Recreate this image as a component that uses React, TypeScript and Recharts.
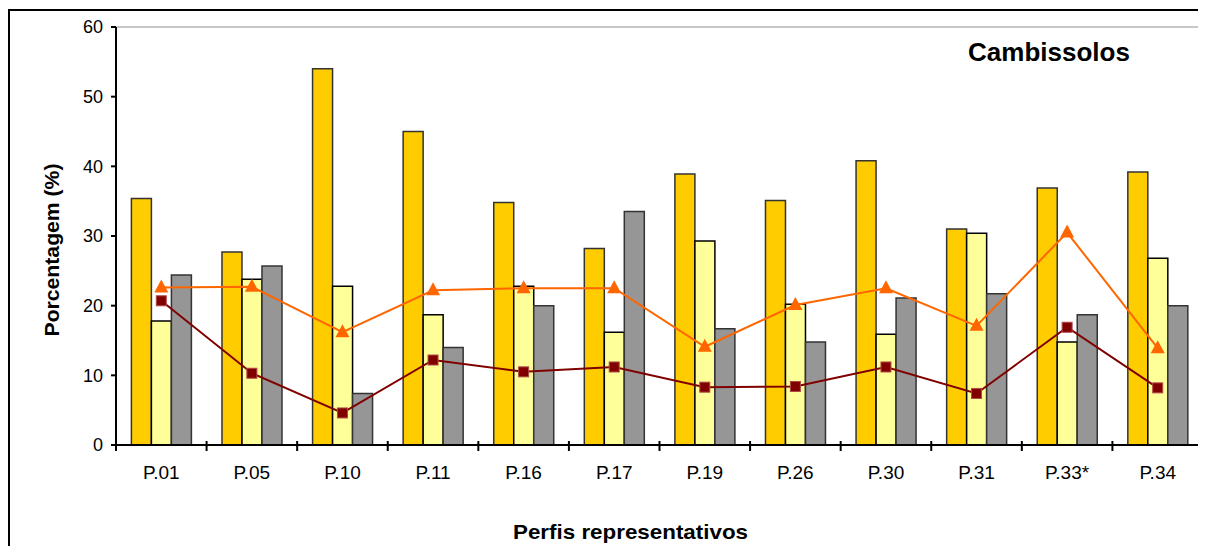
import React from 'react';
import { ComposedChart, Bar, Line, XAxis, YAxis, ReferenceLine } from 'recharts';

const categories = ['P.01', 'P.05', 'P.10', 'P.11', 'P.16', 'P.17', 'P.19', 'P.26', 'P.30', 'P.31', 'P.33*', 'P.34'];
const goldValues = [35.4, 27.7, 54.0, 45.0, 34.8, 28.2, 38.9, 35.1, 40.8, 31.0, 36.9, 39.2];
const paleValues = [17.8, 23.8, 22.8, 18.7, 22.8, 16.2, 29.3, 20.2, 15.9, 30.4, 14.8, 26.8];
const greyValues = [24.4, 25.7, 7.4, 14.0, 20.0, 33.5, 16.7, 14.8, 21.1, 21.7, 18.7, 20.0];
const triangleValues = [22.6, 22.7, 16.2, 22.2, 22.5, 22.5, 14.1, 20.1, 22.5, 17.1, 30.5, 13.9];
const squareValues = [20.7, 10.3, 4.6, 12.2, 10.5, 11.2, 8.3, 8.4, 11.2, 7.4, 16.9, 8.2];
const yTicks = [0, 10, 20, 30, 40, 50, 60];

const data = categories.map((name, i) => ({
  name,
  gold: goldValues[i],
  pale: paleValues[i],
  grey: greyValues[i],
  tri: triangleValues[i],
  sq: squareValues[i],
}));

const FONT = '"Liberation Sans", Arial, sans-serif';
// half a category band: plot is 1087px wide, 12 categories
const HALF_BAND = 1087 / 12 / 2;

// label at the category centre, tick mark on the boundary (Excel style)
const XTick = (props: any) => {
  const { x, y, payload } = props;
  const last = payload.value === categories[categories.length - 1];
  return (
    <g>
      <path d={`M${x - HALF_BAND},${y - 4}V${y + 6}`} stroke="#000" strokeWidth={2} fill="none" />
      {last && <path d={`M${x + HALF_BAND},${y - 4}V${y + 6}`} stroke="#000" strokeWidth={2} fill="none" />}
      <text x={x} y={y + 34} textAnchor="middle" fontFamily={FONT} fontSize={19} fill="#000">
        {payload.value}
      </text>
    </g>
  );
};

const Triangle = (props: any) => {
  const { cx, cy, index } = props;
  if (cx == null || cy == null) return <g key={`t${index}`} />;
  return <path key={`t${index}`} d={`M${cx},${cy - 8} L${cx + 7},${cy + 5} L${cx - 7},${cy + 5} Z`} fill="#FF6600" />;
};

const Square = (props: any) => {
  const { cx, cy, index } = props;
  if (cx == null || cy == null) return <g key={`s${index}`} />;
  return <rect key={`s${index}`} x={cx - 5} y={cy - 5} width={10} height={10} fill="#800000" stroke="#B04848" strokeWidth={1} />;
};

export default function App() {
  return (
    <div
      style={{
        position: 'relative',
        top: 1,
        width: 1196,
        height: 536,
        borderTop: '2px solid #000',
        borderLeft: '2px solid #000',
        background: '#fff',
      }}
    >
      <ComposedChart
        width={1196}
        height={536}
        data={data}
        margin={{ top: 16, right: 3, bottom: 0, left: 0 }}
        barCategoryGap="17%"
        barGap={0}
      >
        <XAxis
          dataKey="name"
          height={102}
          axisLine={{ stroke: '#000', strokeWidth: 2 }}
          tickLine={false}
          tickSize={0}
          tickMargin={0}
          interval={0}
          tick={<XTick />}
          label={{
            content: (p: any) => {
              const vb = p.viewBox || {};
              return (
                <text
                  x={vb.x + vb.width / 2 - 29}
                  y={vb.y + 94}
                  textAnchor="middle"
                  fontFamily={FONT}
                  fontWeight="bold"
                  fontSize={21}
                  textLength={235}
                  lengthAdjust="spacingAndGlyphs"
                  fill="#000"
                >
                  Perfis representativos
                </text>
              );
            },
          }}
        />
        <YAxis
          width={106}
          domain={[0, 60]}
          ticks={yTicks}
          interval={0}
          axisLine={{ stroke: '#000', strokeWidth: 2 }}
          tickLine={{ stroke: '#000', strokeWidth: 2 }}
          tickSize={5}
          tickMargin={8}
          tick={{ fill: '#000', fontSize: 18, fontFamily: FONT }}
          label={{
            content: (p: any) => {
              const vb = p.viewBox || {};
              const cx = 49;
              const cy = vb.y + vb.height / 2 + 14;
              return (
                <text
                  x={cx}
                  y={cy}
                  transform={`rotate(-90 ${cx} ${cy})`}
                  textAnchor="middle"
                  fontFamily={FONT}
                  fontWeight="bold"
                  fontSize={20}
                  textLength={173}
                  lengthAdjust="spacingAndGlyphs"
                  fill="#000"
                >
                  Porcentagem (%)
                </text>
              );
            },
          }}
        />
        <YAxis
          yAxisId="right"
          orientation="right"
          width={0}
          domain={[0, 60]}
          tick={false}
          tickLine={false}
          axisLine={{ stroke: '#C8C8C8', strokeWidth: 2 }}
        />
        <ReferenceLine
          y={60}
          stroke="#C8C8C8"
          strokeWidth={2}
          label={{
            content: (p: any) => {
              const vb = p.viewBox || {};
              return (
                <text
                  x={vb.x + vb.width - 154}
                  y={vb.y + 34}
                  textAnchor="middle"
                  fontFamily={FONT}
                  fontWeight="bold"
                  fontSize={26}
                  fill="#000"
                >
                  Cambissolos
                </text>
              );
            },
          }}
        />
        <Bar dataKey="gold" fill="#FFCC00" stroke="#333" strokeWidth={1.5} isAnimationActive={false} />
        <Bar dataKey="pale" fill="#FFFF99" stroke="#000" strokeWidth={1.5} isAnimationActive={false} />
        <Bar dataKey="grey" fill="#969696" stroke="#333" strokeWidth={1.5} isAnimationActive={false} />
        <Line dataKey="tri" stroke="#FF6600" strokeWidth={2} dot={<Triangle />} activeDot={false} isAnimationActive={false} />
        <Line dataKey="sq" stroke="#800000" strokeWidth={2} dot={<Square />} activeDot={false} isAnimationActive={false} />
      </ComposedChart>
    </div>
  );
}
